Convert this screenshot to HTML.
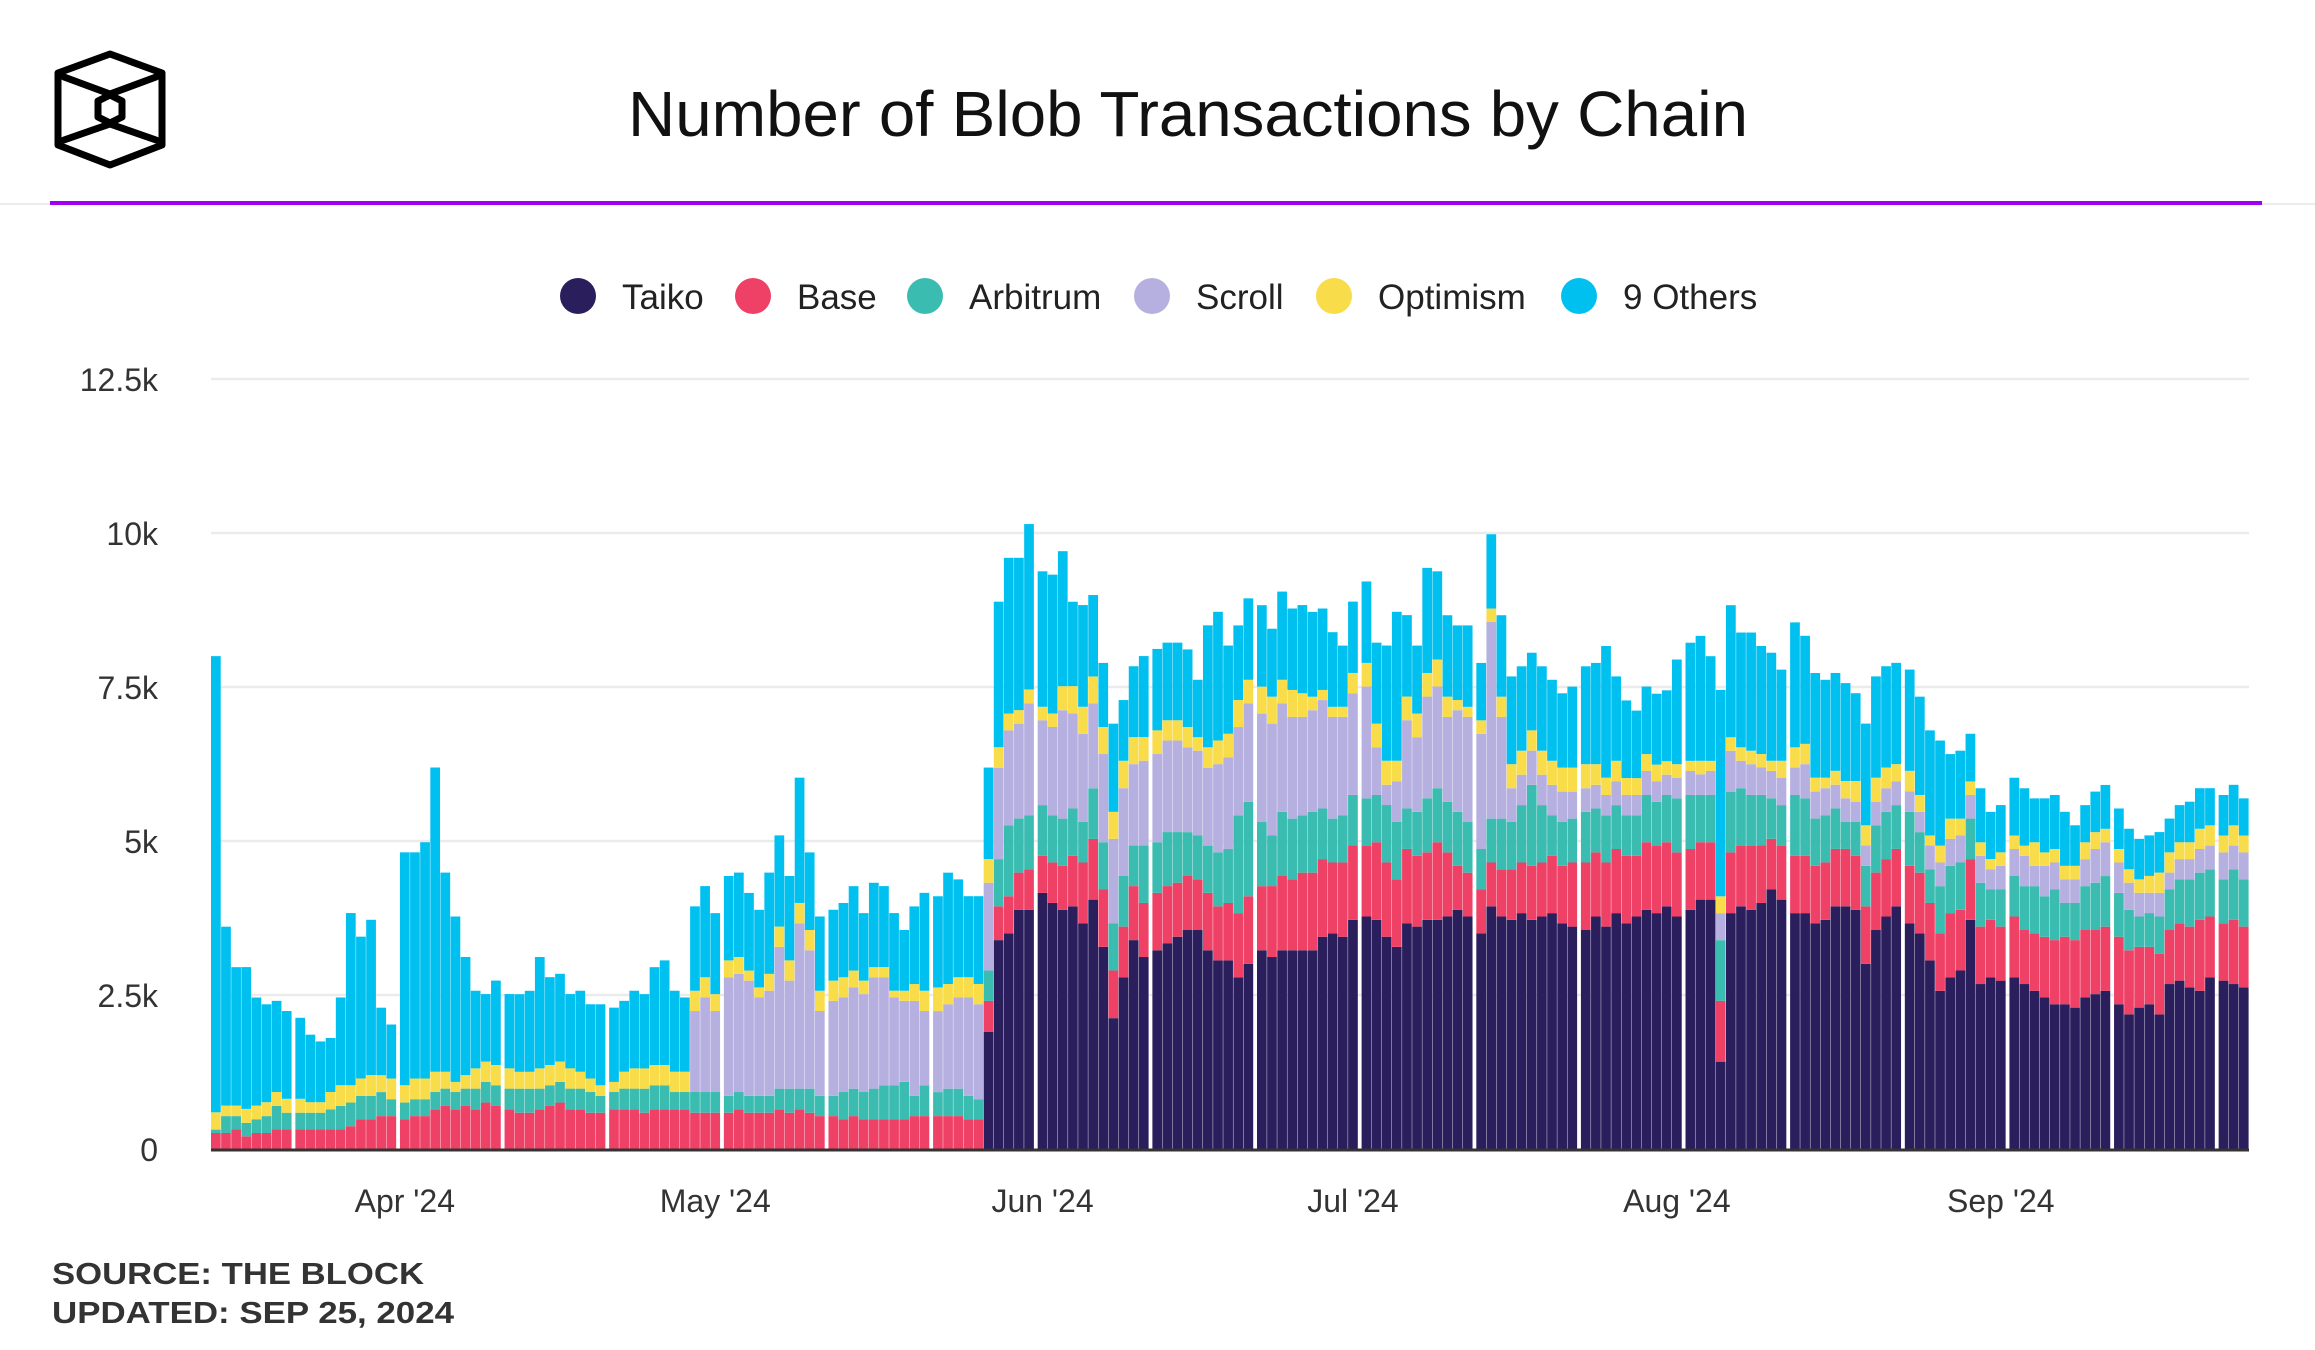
<!DOCTYPE html>
<html><head><meta charset="utf-8"><title>Number of Blob Transactions by Chain</title>
<style>
html,body{margin:0;padding:0;background:#fff;}
svg{display:block;font-family:"Liberation Sans",Arial,sans-serif;}
</style></head>
<body>
<svg id="chart" width="2315" height="1350" viewBox="0 0 2315 1350" xmlns="http://www.w3.org/2000/svg">
  <g fill="none" stroke="#000" stroke-width="7" stroke-linejoin="round" stroke-linecap="round">
    <polygon points="110,54 162,73 162,145 110,165 58,145 58,73"/>
    <polyline points="64,77 110,94 156,77"/>
    <polyline points="64,140 110,124 156,140"/>
    <polygon points="110,95 122,101 122,117 110,123 98,117 98,101"/>
  </g>
  <text x="1188" y="136" text-anchor="middle" font-size="64" fill="#111" textLength="1120" lengthAdjust="spacingAndGlyphs">Number of Blob Transactions by Chain</text>
  <line x1="0" y1="204" x2="2315" y2="204" stroke="#ececec" stroke-width="2"/>
  <line x1="50" y1="203" x2="2262" y2="203" stroke="#a100f2" stroke-width="4"/>
  <g id="legend"></g>
  <g id="grid"></g>
  <g id="yaxis"></g>
  <g id="bars"></g>
  <line x1="211" y1="1150" x2="2249" y2="1150" stroke="#333" stroke-width="3"/>
  <g id="xaxis"></g>
  <text x="52" y="1284" font-size="31" font-weight="bold" fill="#333" textLength="372" lengthAdjust="spacingAndGlyphs">SOURCE: THE BLOCK</text>
  <text x="52" y="1323" font-size="31" font-weight="bold" fill="#333" textLength="402" lengthAdjust="spacingAndGlyphs">UPDATED: SEP 25, 2024</text>
</svg>
<script>
const seriesNames = ["Taiko","Base","Arbitrum","Scroll","Optimism","9 Others"];
const seriesColors = ["#2a1f5c","#ef4166","#3bbcb0","#b6b0e0","#f9dc4a","#00c0f0"];
const yTicks = [0,2500,5000,7500,10000,12500];
const yTickLabels = ["0","2.5k","5k","7.5k","10k","12.5k"];
const xTickIndex = [18,48,79,109,140,171];
const xTickLabels = ["Apr '24","May '24","Jun '24","Jul '24","Aug '24","Sep '24"];
const taiko = [].concat(new Array(74).fill(0), [
1904,3391,3500,3884,3884,4158,3994,3884,3939,3665,
4048,3281,2124,2788,3391,3117,3226,3336,3446,3555,
3555,3226,3062,3062,2788,3007,3226,3117,3226,3226,
3226,3226,3446,3500,3446,3720,3774,3720,3446,3281,
3665,3610,3720,3720,3774,3884,3774,3500,3939,3774,
3720,3829,3720,3774,3829,3665,3610,3555,3774,3610,
3829,3665,3774,3884,3829,3939,3774,3884,4048,4048,
1418,3829,3939,3884,3994,4213,4048,3829,3829,3665,
3720,3939,3939,3884,3007,3555,3774,3939,3665,3500,
3062,2568,2788,2898,3720,2678,2788,2733,2788,2678,
2568,2459,2350,2350,2295,2459,2514,2568,2350,2185,
2295,2350,2185,2678,2733,2624,2568,2788,2733,2678,
2624]);
const base = [
260,260,322,206,260,260,322,322,322,322,
322,322,322,370,480,480,534,534,480,534,
534,644,699,644,699,644,754,699,644,589,
589,644,699,754,644,644,589,589,644,644,
644,589,644,644,644,644,589,589,589,589,
644,589,589,589,644,589,644,589,534,534,
480,534,480,480,480,480,480,534,534,534,
534,534,480,480,500,548,603,603,658,603,
658,712,822,986,986,932,774,822,877,877,
932,932,877,877,822,932,877,932,1041,1096,
1041,1151,1206,1151,1260,1260,1260,1151,1206,1206,
1151,1260,1206,1096,1206,1151,1096,1260,1041,712,
712,712,712,767,822,822,877,877,932,932,
1041,1096,1041,1041,1041,1096,986,1096,1096,1041,
1041,986,932,932,986,986,986,1041,932,822,
877,932,932,932,932,932,932,877,932,932,
932,932,932,986,932,932,1041,986,986,932,
932,877,986,877,932,986,1041,1096,1096,1096,
1041,1041,1096,1041,986,932,986,877,932,986,
1151,986,932,1041,986];
const arbitrum = [
55,274,212,219,219,274,377,267,267,267,
267,322,377,384,384,384,390,274,274,274,
274,281,281,281,281,336,336,336,336,390,
390,336,336,336,336,336,336,274,281,336,
336,390,390,390,281,281,336,336,336,274,
281,274,274,274,336,390,336,390,329,329,
445,445,445,500,555,555,610,329,500,390,
445,445,384,329,493,767,1151,877,877,822,
767,767,767,658,822,767,767,822,658,932,
822,877,822,712,712,767,877,877,1589,1534,
1041,822,1041,986,932,986,822,712,767,822,
767,767,932,932,658,712,877,877,822,877,
822,658,712,822,767,932,1315,932,658,712,
712,822,712,767,712,658,658,767,712,767,
877,877,767,767,986,986,932,822,822,658,
658,986,932,767,767,658,438,548,658,767,
767,712,877,658,548,767,767,767,658,712,
493,603,658,712,767,658,822,548,603,712,
767,822,712,658,493,548,603,658,712,767,
767,767,712,822,767];
const scroll = [].concat(new Array(46).fill(0), [
1315,1534,1315,1925,
1918,1870,1596,1706,2302,1754,2685,2247,1377,1541,
1534,1644,1589,1808,1754,1425,1315,1541,1206,1315,
1370,1480,1596,1541,1425,1480,1541,1541,1815,1377,
1432,1760,1541,1432,1377,1432,1370,1425,1322,1377,
1432,1486,1486,1377,1377,1260,1432,1486,1432,1596,
1760,1815,1760,1651,1596,1651,1760,1651,1596,1651,
1815,774,329,658,1432,1212,1651,1651,1377,1651,
1706,1870,3192,1651,548,493,555,493,493,493,
438,384,384,329,384,329,329,390,329,329,
336,390,336,390,438,664,445,500,445,445,
445,445,555,438,438,384,384,329,329,384,
384,384,329,329,384,384,438,438,384,438,
329,384,438,493,329,493,438,384,384,438,
548,548,493,438,384,329,384,274,329,329,
384,384,438,384,438]);
const optimism = [
281,171,171,226,226,226,226,226,226,171,
171,281,336,281,281,336,274,336,281,336,
336,329,274,164,219,329,329,329,329,274,
274,329,329,329,329,274,219,171,164,274,
329,329,329,329,329,329,329,329,274,274,
274,164,164,274,329,329,329,329,329,329,
329,274,219,164,164,110,164,274,329,384,
329,329,329,329,384,336,274,219,226,219,
219,390,445,438,438,438,438,445,438,384,
384,329,329,329,219,336,384,384,438,384,
438,438,384,438,384,219,164,164,164,329,
384,384,390,336,384,384,384,438,329,164,
164,219,219,329,390,390,329,390,390,390,
390,390,336,281,336,274,274,274,274,219,
219,164,219,164,274,219,219,219,219,164,
274,329,329,226,171,226,281,336,329,390,
336,281,336,274,164,274,329,274,219,219,
164,219,219,164,384,219,219,219,219,274,
274,219,219,219,219,274,329,329,274,274,
329,329,274,329,274];
const others = [
7405,2904,2247,2302,1754,1589,1480,1425,1315,1096,
986,877,1425,2795,2302,2521,1096,877,3781,3672,
3836,4939,3233,2685,1918,1260,1096,1370,1206,1260,
1315,1808,1425,1425,1206,1315,1206,1315,1206,1151,
1260,1206,1589,1699,1315,1206,1370,1480,1315,1370,
1370,1260,1260,1644,1480,1370,2034,1260,1206,1151,
1206,1370,1096,1370,1315,1260,986,1260,1589,1480,
1808,1589,1315,1425,1486,2363,2528,2473,2685,2199,
2254,2192,1370,1651,1322,1041,1432,986,1151,1315,
1322,1260,1260,1260,932,1980,2089,1432,1212,1322,
1322,1103,1432,1322,1432,1377,1322,1212,993,1158,
1322,1315,1870,2418,1322,1103,1706,1432,1322,1212,
1322,932,1206,1322,1425,1370,1260,1370,1315,1206,
1315,1589,1644,2137,1370,1260,1096,1096,1151,1151,
1699,1918,2028,1699,3350,2144,1863,1918,1754,1754,
1480,2028,1754,1699,1589,1589,1589,1425,1651,1644,
1644,1644,1644,1596,1706,1706,1048,1103,774,877,
767,767,938,932,712,877,877,877,658,603,
658,712,658,658,658,658,658,548,603,658,
658,603,658,658,603];

const NS = "http://www.w3.org/2000/svg";
function mk(tag, attrs){const e=document.createElementNS(NS,tag);for(const k in attrs)e.setAttribute(k,attrs[k]);return e;}
const y0 = 1149, pxPerUnit = (1149-533)/10000;
function yScale(v){return y0 - v*pxPerUnit;}
// visual separators (1-based bar numbers that begin a new group)
const groupStarts = [9,19,29,39,50,60,70,80,91,101,111,122,132,142,152,163,173,183,193];
const groupGap = 3.4;
const barStep = (2249-211-groupStarts.length*groupGap)/taiko.length;
const barW = barStep - 0.4;
function xScale(i){let g=0;for(const s of groupStarts){if(i+1>=s)g++;}return 211 + i*barStep + g*groupGap;}

const grid = document.getElementById('grid');
const yaxis = document.getElementById('yaxis');
yTicks.forEach((t,k)=>{
  if(t>0){
    const gl = mk('line',{x1:211,x2:2249,y1:yScale(t),y2:yScale(t),stroke:'#ebebeb','stroke-width':2.5});
    
    
    grid.appendChild(gl);
  }
  const tx = mk('text',{x:158,y:yScale(t)+12,'text-anchor':'end','font-size':32,fill:'#333'});
  tx.textContent = yTickLabels[k];
  
  
  yaxis.appendChild(tx);
});

const series = [taiko,base,arbitrum,scroll,optimism,others];
const bars = document.getElementById('bars');
for(let i=0;i<taiko.length;i++){
  let cum=0;
  const g = mk('g',{});
  
  
  series.forEach((s,k)=>{
    const v=s[i]; if(!v){return;}
    const top=yScale(cum+v), bot=yScale(cum);
    const r = mk('rect',{x:xScale(i),y:top,width:barW,height:bot-top,fill:seriesColors[k]});
    
    
    g.appendChild(r);
    cum+=v;
  });
  bars.appendChild(g);
}

const xaxis = document.getElementById('xaxis');
xTickIndex.forEach((idx,k)=>{
  const tx = mk('text',{x:xScale(idx)+barW/2,y:1212,'text-anchor':'middle','font-size':32,fill:'#333'});
  tx.textContent = xTickLabels[k];
  
  
  xaxis.appendChild(tx);
});

const legend = document.getElementById('legend');
const legCircleX = [578,753,925,1152,1334,1579];
seriesNames.forEach((n,k)=>{
  const g = mk('g',{});
  
  
  const c = mk('ellipse',{cx:legCircleX[k],cy:296,rx:18,ry:18,fill:seriesColors[k]});
  
  
  const t = mk('text',{x:legCircleX[k]+44,y:309,'font-size':35,fill:'#222'});
  t.textContent = n;
  
  
  g.appendChild(c); g.appendChild(t);
  legend.appendChild(g);
});
</script>
</body></html>
